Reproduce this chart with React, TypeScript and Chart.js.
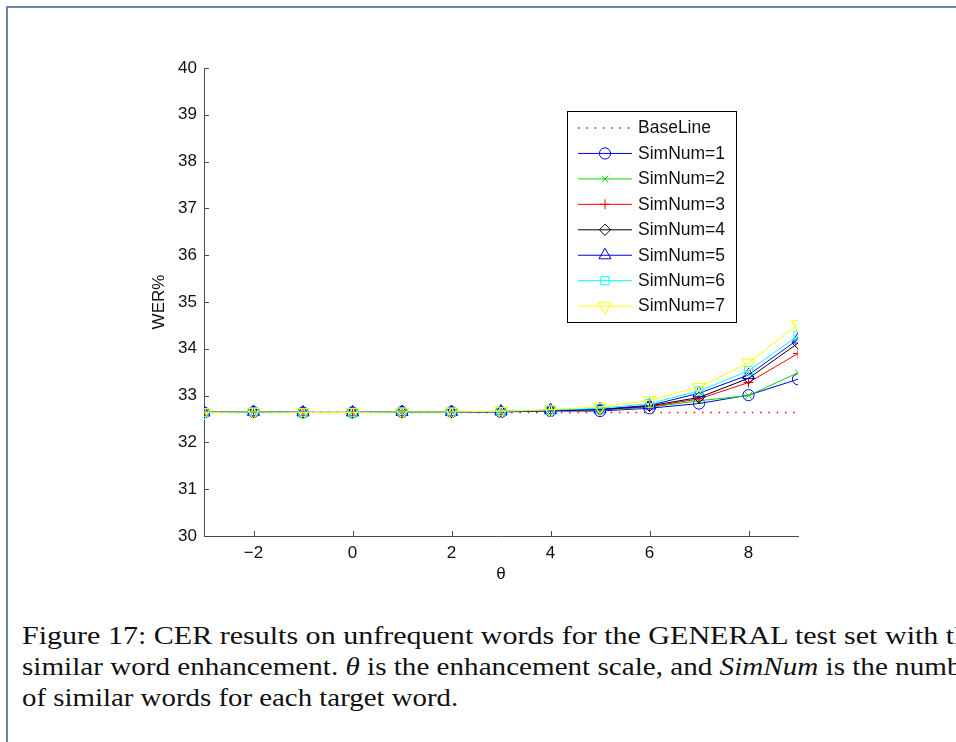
import React, { useEffect, useRef } from "react";
import { Chart, registerables } from "chart.js";
import { drawPoint } from "chart.js/helpers";

Chart.register(...registerables);

// Enhancement scale θ
const theta = [-3, -2, -1, 0, 1, 2, 3, 4, 5, 6, 7, 8, 9];

// WER% per setting
const baseLine = [32.64, 32.64, 32.64, 32.64, 32.64, 32.64, 32.64, 32.64, 32.64, 32.64, 32.64, 32.64, 32.64];
const simNum1 = [32.64, 32.65, 32.64, 32.64, 32.65, 32.65, 32.65, 32.67, 32.67, 32.73, 32.83, 33.01, 33.35];
const simNum2 = [32.64, 32.65, 32.64, 32.64, 32.65, 32.65, 32.66, 32.68, 32.69, 32.75, 32.89, 33.0, 33.49];
const simNum3 = [32.64, 32.65, 32.64, 32.64, 32.65, 32.65, 32.66, 32.68, 32.7, 32.76, 32.93, 33.28, 33.9];
const simNum4 = [32.64, 32.65, 32.64, 32.64, 32.65, 32.65, 32.66, 32.68, 32.7, 32.78, 32.96, 33.37, 34.12];
const simNum5 = [32.64, 32.65, 32.64, 32.64, 32.65, 32.65, 32.66, 32.69, 32.71, 32.79, 33.05, 33.44, 34.2];
const simNum6 = [32.64, 32.65, 32.64, 32.64, 32.65, 32.65, 32.66, 32.69, 32.73, 32.83, 33.1, 33.53, 34.28];
const simNum7 = [32.64, 32.65, 32.64, 32.64, 32.65, 32.65, 32.67, 32.7, 32.76, 32.9, 33.18, 33.7, 34.52];

const xTickValues = [-2, 0, 2, 4, 6, 8];
const yTickValues = [30, 31, 32, 33, 34, 35, 36, 37, 38, 39, 40];

const seriesLabels = ["BaseLine", "SimNum=1", "SimNum=2", "SimNum=3", "SimNum=4", "SimNum=5", "SimNum=6", "SimNum=7"];

const SANS = "'Liberation Sans', Arial, sans-serif";
const AXIS_COLOR = "#4a4a4a";
const TICK_SIZE = 17;

const toPoints = (ys: number[]) => theta.map((x, i) => ({ x, y: ys[i] }));

type Marker = { style: any; color: string; radius: number; rotation?: number };

const markers: Marker[] = [
  { style: false, color: "#ff0000", radius: 0 },
  { style: "circle", color: "#0000ff", radius: 5.6 },
  { style: "crossRot", color: "#00dd00", radius: 4.6 },
  { style: "cross", color: "#ff0000", radius: 5 },
  { style: "rectRot", color: "#000000", radius: 5.6 },
  { style: "triangle", color: "#0000ff", radius: 7 },
  { style: "rect", color: "#00ffff", radius: 5.8 },
  { style: "triangle", color: "#ffff00", radius: 7.6, rotation: 180 },
];

const seriesValues = [baseLine, simNum1, simNum2, simNum3, simNum4, simNum5, simNum6, simNum7];

// Inward tick marks (MATLAB style) drawn from the scales' own tick positions
const inwardTicks = {
  id: "inwardTicks",
  afterDraw(chart: any) {
    const { ctx, chartArea, scales } = chart;
    ctx.save();
    ctx.strokeStyle = AXIS_COLOR;
    ctx.lineWidth = 1;
    ctx.beginPath();
    for (const t of scales.y.ticks) {
      const y = Math.round(scales.y.getPixelForValue(t.value)) + 0.5;
      ctx.moveTo(chartArea.left, y);
      ctx.lineTo(chartArea.left + 5, y);
    }
    for (const t of scales.x.ticks) {
      const x = Math.round(scales.x.getPixelForValue(t.value)) + 0.5;
      ctx.moveTo(x, chartArea.bottom);
      ctx.lineTo(x, chartArea.bottom - 5);
    }
    ctx.stroke();
    ctx.restore();
  },
};

// Boxed legend in the upper right of the plot
const boxLegend = {
  id: "boxLegend",
  afterDraw(chart: any) {
    const { ctx } = chart;
    const left = 567.5;
    const top = 111.5;
    const w = 169;
    const h = 211;
    ctx.save();
    ctx.fillStyle = "#ffffff";
    ctx.fillRect(left, top, w, h);
    ctx.strokeStyle = "#000000";
    ctx.lineWidth = 1;
    ctx.strokeRect(left, top, w, h);
    chart.data.datasets.forEach((ds: any, i: number) => {
      const y = 128 + i * 25.45;
      ctx.save();
      ctx.strokeStyle = ds.borderColor;
      ctx.lineWidth = ds.borderWidth;
      ctx.setLineDash(ds.borderDash || []);
      ctx.beginPath();
      ctx.moveTo(578, y);
      ctx.lineTo(632, y);
      ctx.stroke();
      ctx.setLineDash([]);
      const m = markers[i];
      if (m.style) {
        ctx.fillStyle = "rgba(0,0,0,0)";
        ctx.strokeStyle = m.color;
        ctx.lineWidth = 1;
        drawPoint(ctx, { pointStyle: m.style, radius: m.radius, rotation: m.rotation || 0, borderWidth: 1 } as any, 605, y);
      }
      ctx.restore();
      ctx.fillStyle = "#111111";
      ctx.font = `17.5px ${SANS}`;
      ctx.textBaseline = "middle";
      ctx.textAlign = "left";
      ctx.fillText(ds.label, 638, y + 0.5);
    });
    ctx.restore();
  },
};

function WerChart() {
  const ref = useRef<HTMLCanvasElement | null>(null);

  useEffect(() => {
    if (!ref.current) return;
    const datasets = seriesValues.map((vals, i) => {
      const m = markers[i];
      const isBase = i === 0;
      return {
        label: seriesLabels[i],
        data: toPoints(vals),
        borderColor: m.color,
        backgroundColor: "rgba(0,0,0,0)",
        borderWidth: isBase ? 1.4 : 1,
        borderDash: isBase ? [1.5, 6.8] : [],
        pointStyle: m.style,
        pointRadius: m.radius,
        pointRotation: m.rotation || 0,
        pointBorderColor: m.color,
        pointBackgroundColor: "rgba(0,0,0,0)",
        pointBorderWidth: 1,
        tension: 0,
        fill: false,
        order: isBase ? 8 : 8 - i,
      };
    });

    const chart = new Chart(ref.current, {
      type: "line",
      data: { datasets },
      options: {
        animation: false,
        responsive: false,
        maintainAspectRatio: false,
        devicePixelRatio: 1,
        layout: { padding: { left: 0, top: 68, right: 158, bottom: 0 } },
        plugins: {
          legend: { display: false },
          tooltip: { enabled: false },
        },
        scales: {
          x: {
            type: "linear",
            min: -3,
            max: 9,
            afterBuildTicks: (scale: any) => {
              scale.ticks = xTickValues.map((v) => ({ value: v }));
            },
            afterFit: (scale: any) => {
              scale.height = 64;
            },
            grid: { drawOnChartArea: false, drawTicks: false },
            border: { color: AXIS_COLOR, width: 1 },
            ticks: {
              padding: 7,
              autoSkip: false,
              maxRotation: 0,
              color: "#111111",
              font: { family: SANS, size: TICK_SIZE },
              callback: (v: any) => (v < 0 ? "\u2212" + Math.abs(v) : String(v)),
            },
            title: {
              display: true,
              text: "θ",
              color: "#111111",
              font: { family: SANS, size: TICK_SIZE },
              padding: { top: 0, bottom: 15 },
            },
          },
          y: {
            type: "linear",
            min: 30,
            max: 40,
            afterBuildTicks: (scale: any) => {
              scale.ticks = yTickValues.map((v) => ({ value: v }));
            },
            afterFit: (scale: any) => {
              scale.width = 204;
            },
            grid: { drawOnChartArea: false, drawTicks: false },
            border: { color: AXIS_COLOR, width: 1 },
            ticks: {
              padding: 7,
              color: "#111111",
              font: { family: SANS, size: TICK_SIZE },
            },
            title: {
              display: true,
              text: "WER%",
              color: "#111111",
              font: { family: SANS, size: TICK_SIZE },
              padding: { top: 149, bottom: 0 },
            },
          },
        },
      },
      plugins: [inwardTicks, boxLegend],
    } as any);

    return () => chart.destroy();
  }, []);

  return (
    <canvas
      ref={ref}
      width={956}
      height={600}
      style={{ position: "absolute", left: 0, top: 0, width: 956, height: 600 }}
    />
  );
}

const SERIF = "'Liberation Serif', 'Times New Roman', serif";

const captionLine = (top: number, stretch: number): React.CSSProperties => ({
  position: "absolute",
  left: 22,
  top,
  whiteSpace: "nowrap",
  fontFamily: SERIF,
  fontSize: 26,
  lineHeight: "31px",
  color: "#111111",
  transform: `scaleX(${stretch})`,
  transformOrigin: "0 0",
});

export default function App() {
  return (
    <div
      style={{
        position: "fixed",
        left: 0,
        top: 0,
        width: 956,
        height: 742,
        overflow: "hidden",
        background: "#ffffff",
      }}
    >
      <div
        style={{
          position: "absolute",
          left: 6,
          top: 6,
          width: 1200,
          height: 1000,
          borderTop: "2px solid #6b86a3",
          borderLeft: "2px solid #6b86a3",
        }}
      />
      <WerChart />
      <div style={captionLine(620, 1.155)}>
        Figure 17: CER results on unfrequent words for the GENERAL test set with the
      </div>
      <div style={captionLine(651, 1.12)}>
        similar word enhancement. <i>θ</i> is the enhancement scale, and <i>SimNum</i> is the number
      </div>
      <div style={captionLine(682, 1.11)}>of similar words for each target word.</div>
    </div>
  );
}
